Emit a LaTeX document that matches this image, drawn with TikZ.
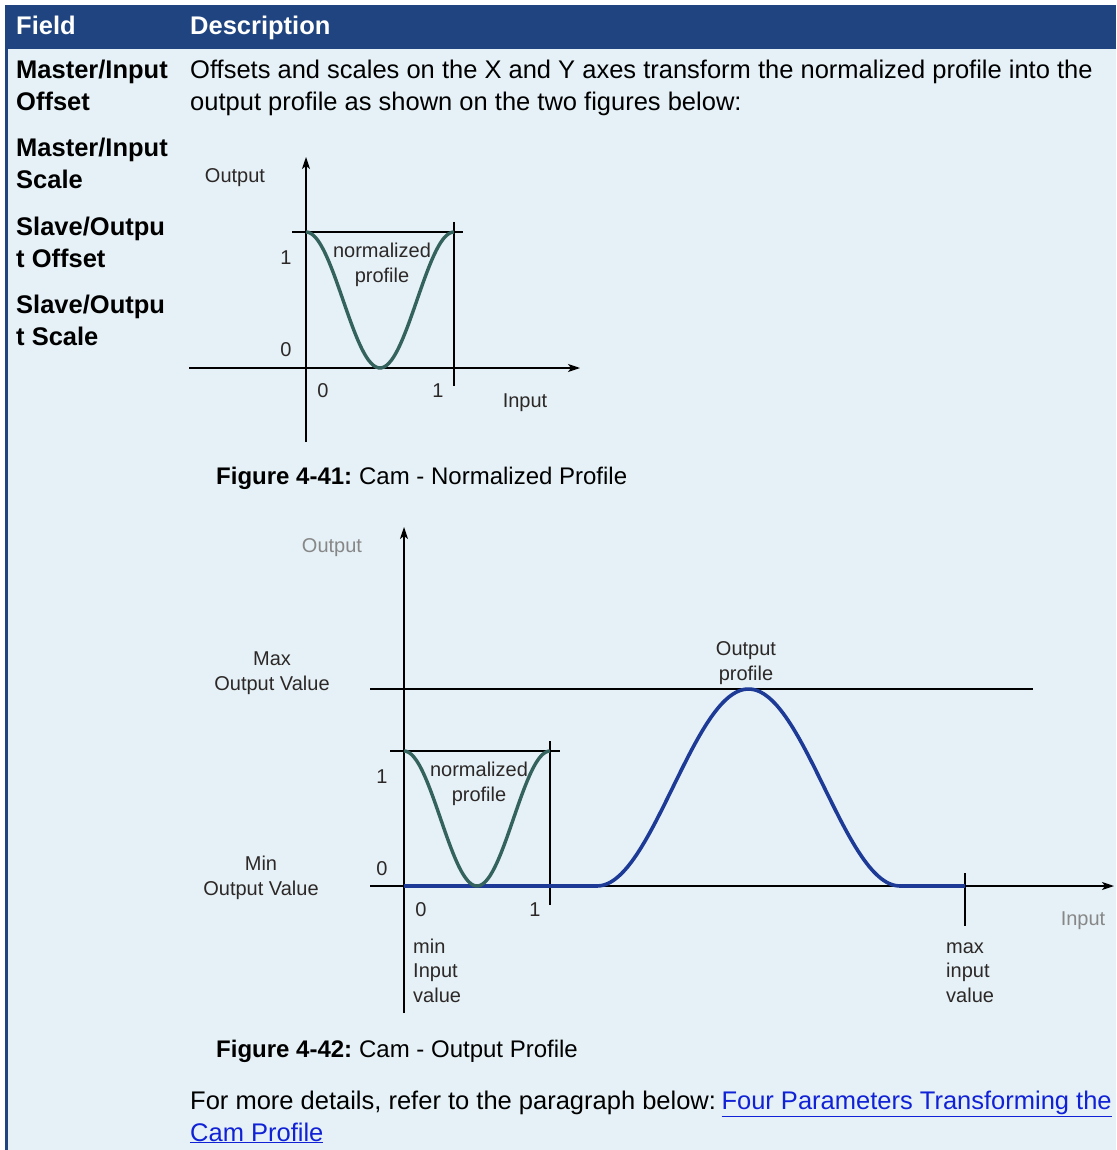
\documentclass[tikz,border=0pt]{standalone}
\usepackage{fontspec}
\setmainfont{Liberation Sans}
\usepackage{xcolor}
\usetikzlibrary{arrows.meta,calc,positioning}

\definecolor{hdrblue}{RGB}{31,68,128}
\definecolor{bodyblue}{RGB}{229,241,246}
\definecolor{camteal}{RGB}{52,98,92}
\definecolor{camblue}{RGB}{28,58,150}
\definecolor{linkblue}{RGB}{17,34,214}
\definecolor{figtext}{RGB}{45,40,40}
\definecolor{figgray}{RGB}{135,135,135}

\newcommand\bodyfnt{\fontsize{25.5}{32}\selectfont}
\newcommand\capfnt{\fontsize{24}{32}\selectfont}
\newcommand\figfnt{\fontsize{20}{24.5}\selectfont}

\begin{document}
\begin{tikzpicture}[x=1pt, y=-1pt,
    every node/.style={inner sep=0pt},
    hdrtext/.style={anchor=base west, text=white, font=\bodyfnt\bfseries},
    fieldname/.style={anchor=base west, align=left, font=\bodyfnt\bfseries},
    desctext/.style={anchor=base west, align=left, font=\bodyfnt},
    figcap/.style={anchor=base west, font=\capfnt},
    figlbl/.style={anchor=base, align=center, font=\figfnt, text=figtext},
    figdim/.style={figlbl, text=figgray},
    axisline/.style={line width=1.3pt, -{Stealth[length=12pt,width=8pt,inset=3pt]}},
    guide/.style={line width=1.3pt},
    normcurve/.style={line width=3.4pt, camteal},
    outcurve/.style={line width=3.6pt, camblue}]

    % table frame
    \useasboundingbox (0,0) rectangle (1116,1150);
    \fill[bodyblue] (5,49) rectangle (1116,1150);
    \fill[hdrblue] (5,5) rectangle (1116,49);
    \fill[hdrblue] (5,49) rectangle (8,1150);

    % header row
    \node[hdrtext] (hfield) at (16,35) {Field};
    \node[hdrtext] (hdesc) at (190,35) {Description};

    % field column (base = last line)
    \node[fieldname] (mioffset) at (16,111) {Master/Input\\Offset};
    \node[fieldname] (miscale) at (16,189) {Master/Input\\Scale};
    \node[fieldname] (sooffset) at (16,267) {Slave/Outpu\\t Offset};
    \node[fieldname] (soscale) at (16,345) {Slave/Outpu\\t Scale};

    % description column
    \node[desctext] (intro) at (190,111) {Offsets and scales on the X and Y axes transform the normalized profile into the\\output profile as shown on the two figures below:};

    % figure 4-41: normalized profile
    \coordinate (n-bot) at (306,442);
    \coordinate (n-top) at (306,157);
    \coordinate (n-left) at (189,368);
    \coordinate (n-right) at (580,368);
    \draw[axisline] (n-bot) -- (n-top);
    \draw[axisline] (n-left) -- (n-right);
    \draw[guide] (292,232) -- (463,232);
    \draw[guide] (454,222) -- (454,386);
    \draw[normcurve] plot[domain=0:1, samples=60, smooth] ({306+148*\x}, {232+136*(1-cos(360*\x))/2});

    \node[figlbl] (n-out) at (235,183) {Output};
    \node[figlbl] (n-one) at (286,264) {1};
    \node[figlbl] (n-zero) at (286,356) {0};
    \node[figlbl] (n-xzero) at (323,397) {0};
    \node[figlbl] (n-xone) at (438,397) {1};
    \node[figlbl] (n-in) at (525,407) {Input};
    \node[figlbl] (n-name) at (382,282) {normalized\\profile};

    \node[figcap] (cap1) at (216,484) {\textbf{Figure 4-41:}\kern-2pt{} Cam - Normalized Profile};

    % figure 4-42: output profile
    \coordinate (o-bot) at (404,1013);
    \coordinate (o-top) at (404,527);
    \coordinate (o-left) at (370,886);
    \coordinate (o-right) at (1114,886);
    \draw[axisline] (o-bot) -- (o-top);
    \draw[axisline] (o-left) -- (o-right);
    \draw[guide] (370,689) -- (1033,689);
    \draw[guide] (390,751) -- (560,751);
    \draw[guide] (550,741) -- (550,905);
    \draw[guide] (965,873) -- (965,926);
    \draw[outcurve] (404,886) -- (597,886)
        -- plot[domain=0:1, samples=70, smooth] ({597+303*\x}, {886-197*(1-cos(360*\x))/2})
        -- (965,886);
    \draw[normcurve] plot[domain=0:1, samples=60, smooth] ({404+146*\x}, {751+135*(1-cos(360*\x))/2});

    \node[figdim] (o-out) at (332,552) {Output};
    \node[figlbl] (o-max) at (272,690) {Max\\Output Value};
    \node[figlbl] (o-prof) at (746,680) {Output\\profile};
    \node[figlbl] (o-one) at (382,783) {1};
    \node[figlbl] (o-zero) at (382,875) {0};
    \node[figlbl] (o-name) at (479,801) {normalized\\profile};
    \node[figlbl] (o-min) at (261,895) {Min\\Output Value};
    \node[figlbl] (o-xzero) at (421,916) {0};
    \node[figlbl] (o-xone) at (535,916) {1};
    \node[figlbl, anchor=base west, align=left] (o-minin) at (413,1002) {min\\Input\\value};
    \node[figlbl, anchor=base west, align=left] (o-maxin) at (946,1002) {max\\input\\value};
    \node[figdim] (o-in) at (1083,925) {Input};

    \node[figcap] (cap2) at (216,1057) {\textbf{Figure 4-42:}\kern-2pt{} Cam - Output Profile};

    % reference to details
    \node[desctext] (more) at (190,1141) {For more details, refer to the paragraph below:\kern-4pt{} \textcolor{linkblue}{\underline{Four Parameters Transforming the}}\\\textcolor{linkblue}{\underline{Cam Profile}}};
\end{tikzpicture}
\end{document}
